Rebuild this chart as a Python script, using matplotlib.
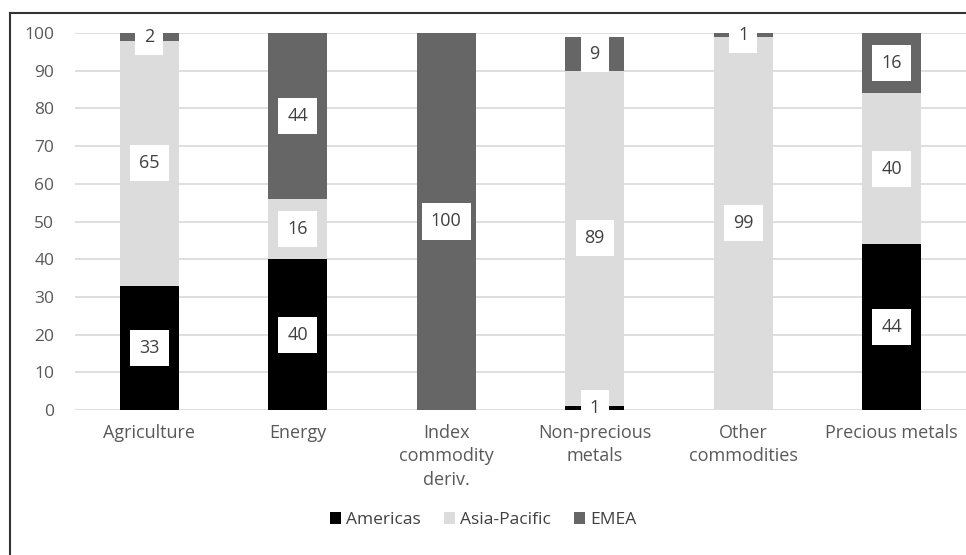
import matplotlib
matplotlib.use("Agg")
import matplotlib.pyplot as plt
from matplotlib.lines import Line2D
from matplotlib.patches import Patch
import numpy as np

plt.rcParams['font.family'] = ['Open Sans', 'DejaVu Sans']

categories = ["Agriculture", "Energy", "Index\ncommodity\nderiv.", "Non-precious\nmetals",
              "Other\ncommodities", "Precious metals"]
americas = [33, 40, 0, 1, 0, 44]
asia_pacific = [65, 16, 0, 89, 99, 40]
emea = [2, 44, 100, 9, 1, 16]
yticks = [0, 10, 20, 30, 40, 50, 60, 70, 80, 90, 100]

series = [("Americas", americas, "#000000"),
          ("Asia-Pacific", asia_pacific, "#dcdcdc"),
          ("EMEA", emea, "#666666")]

fig = plt.figure(figsize=(9.66, 5.55), dpi=100)
ax = fig.add_axes([75 / 966, 1 - 410 / 555, 1 - 75 / 966, (410 - 33) / 555])

x = np.arange(len(categories))
bottom = np.zeros(len(categories))
for name, vals, col in series:
    vals = np.array(vals, dtype=float)
    ax.bar(x, vals, width=0.4, bottom=bottom, color=col, label=name, zorder=2)
    for xi, b, v in zip(x, bottom, vals):
        if v > 0:
            ax.text(xi, b + v / 2, f"{int(v)}", ha="center", va="center",
                    fontsize=13, color="#404040", zorder=4,
                    bbox=dict(boxstyle="square,pad=0.5", fc="white", ec="none"))
    bottom += vals

ax.set_xlim(-0.5, len(categories) - 0.5)
ax.set_ylim(0, 100)
ax.set_yticks(yticks)
ax.yaxis.grid(True, color="#d9d9d9", linewidth=1.2, zorder=0)
ax.set_axisbelow(True)
for s in ax.spines.values():
    s.set_visible(False)
ax.tick_params(axis="both", length=0, labelsize=12.5, labelcolor="#595959")
ax.tick_params(axis="x", labelsize=13)
ax.tick_params(axis="y", pad=15)
ax.tick_params(axis="x", pad=10)
ax.set_xticks(x)
ax.set_xticklabels(categories, linespacing=1.4)

handles = [Patch(facecolor=c, edgecolor="none", label=n) for n, _, c in series]
fig.legend(handles=handles, loc="center", bbox_to_anchor=(483 / 966, 1 - 520 / 555),
           ncol=3, frameon=False, fontsize=12.5, handlelength=0.65, handleheight=0.65,
           handletextpad=0.3, columnspacing=1.3, labelcolor="#404040")

# frame around the figure panel
fig.add_artist(Line2D([10 / 966, 1.0], [1 - 13 / 555, 1 - 13 / 555],
                      transform=fig.transFigure, color="#333333", linewidth=1.5))
fig.add_artist(Line2D([10 / 966, 10 / 966], [0, 1 - 13 / 555],
                      transform=fig.transFigure, color="#333333", linewidth=1.5))

fig.savefig("out.png", dpi=100)
